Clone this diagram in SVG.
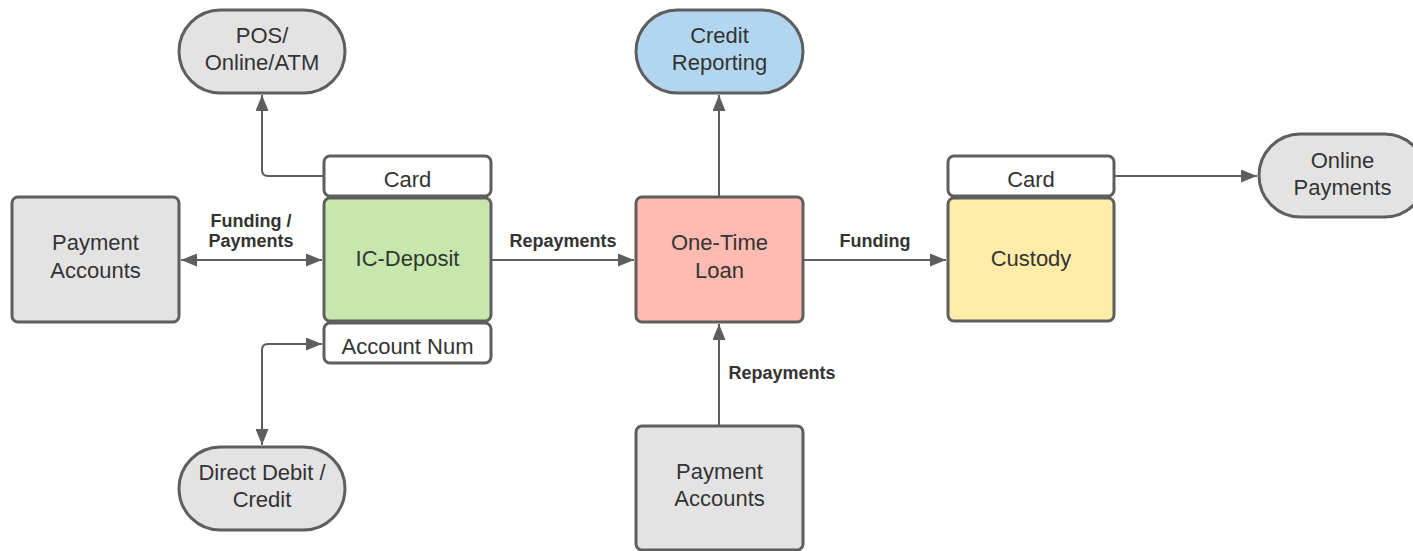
<svg xmlns="http://www.w3.org/2000/svg" width="1413" height="551" viewBox="0 0 1413 551">
<style>
.box{stroke:#5e5e5e;stroke-width:3}
.t{font-family:"Liberation Sans",Arial,sans-serif;font-size:22px;fill:#333;text-anchor:middle}
.l{font-family:"Liberation Sans",Arial,sans-serif;font-size:18px;font-weight:bold;fill:#333;text-anchor:middle}
.c{fill:none;stroke:#5e5e5e;stroke-width:2}
</style>
<defs>
<marker id="ah" markerUnits="userSpaceOnUse" markerWidth="16" markerHeight="13" refX="16" refY="6.5" orient="auto-start-reverse">
<path d="M0,0 L16,6.5 L0,13 z" fill="#5e5e5e"/>
</marker>
</defs>
<rect width="1413" height="551" fill="#fff"/>
<g id="connectors">
<path class="c" d="M324,176 H268 Q262,176 262,170 V95" marker-end="url(#ah)"/>
<path class="c" d="M181,260 H322" marker-start="url(#ah)" marker-end="url(#ah)"/>
<path class="c" d="M491,260 H634" marker-end="url(#ah)"/>
<path class="c" d="M719,197 V95" marker-end="url(#ah)"/>
<path class="c" d="M803,260 H946" marker-end="url(#ah)"/>
<path class="c" d="M1114,176 H1257" marker-end="url(#ah)"/>
<path class="c" d="M322,344 H268 Q262,344 262,350 V445" marker-start="url(#ah)" marker-end="url(#ah)"/>
<path class="c" d="M719,426 V324" marker-end="url(#ah)"/>
<text class="l" x="251" y="227">Funding /</text>
<text class="l" x="251" y="247">Payments</text>
<text class="l" x="563" y="247">Repayments</text>
<text class="l" x="875" y="247">Funding</text>
<text class="l" x="782" y="379">Repayments</text>
</g>
<g id="pos">
<rect class="box" x="179" y="10" width="166" height="83" rx="41.5" fill="#e3e3e3"/>
<text class="t" x="262" y="43">POS/</text>
<text class="t" x="262" y="70">Online/ATM</text>
</g>
<g id="card-left">
<rect class="box" x="324" y="156" width="167" height="40" rx="6" fill="#fff"/>
<text class="t" x="407.5" y="187">Card</text>
</g>
<g id="ic-deposit">
<rect class="box" x="324" y="198" width="167" height="123" rx="6" fill="#c7e8ac"/>
<text class="t" x="407.5" y="266">IC-Deposit</text>
</g>
<g id="account-num">
<rect class="box" x="324" y="323" width="167" height="40" rx="6" fill="#fff"/>
<text class="t" x="407.5" y="354">Account Num</text>
</g>
<g id="payment-accounts-left">
<rect class="box" x="12" y="197" width="167" height="125" rx="6" fill="#e3e3e3"/>
<text class="t" x="95.5" y="250">Payment</text>
<text class="t" x="95.5" y="278">Accounts</text>
</g>
<g id="direct-debit">
<rect class="box" x="179" y="447" width="166" height="83" rx="41.5" fill="#e3e3e3"/>
<text class="t" x="262" y="480">Direct Debit /</text>
<text class="t" x="262" y="507">Credit</text>
</g>
<g id="credit-reporting">
<rect class="box" x="636" y="10" width="167" height="83" rx="41.5" fill="#b2d6f0"/>
<text class="t" x="719.5" y="43">Credit</text>
<text class="t" x="719.5" y="70">Reporting</text>
</g>
<g id="one-time-loan">
<rect class="box" x="636" y="197" width="167" height="125" rx="6" fill="#ffbbb1"/>
<text class="t" x="719.5" y="250">One-Time</text>
<text class="t" x="719.5" y="278">Loan</text>
</g>
<g id="payment-accounts-bottom">
<rect class="box" x="636" y="426" width="167" height="124" rx="6" fill="#e3e3e3"/>
<text class="t" x="719.5" y="479">Payment</text>
<text class="t" x="719.5" y="506">Accounts</text>
</g>
<g id="card-right">
<rect class="box" x="948" y="156" width="166" height="40" rx="6" fill="#fff"/>
<text class="t" x="1031" y="187">Card</text>
</g>
<g id="custody">
<rect class="box" x="948" y="198" width="166" height="123" rx="6" fill="#ffeca9"/>
<text class="t" x="1031" y="266">Custody</text>
</g>
<g id="online-payments">
<rect class="box" x="1259" y="134" width="167" height="83" rx="41.5" fill="#e3e3e3"/>
<text class="t" x="1342.5" y="168">Online</text>
<text class="t" x="1342.5" y="195">Payments</text>
</g>
</svg>
